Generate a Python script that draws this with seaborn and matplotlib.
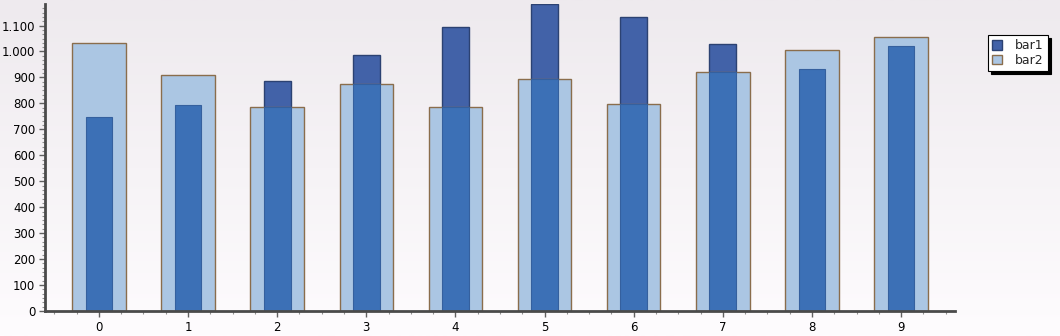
import numpy as np
import pandas as pd
import matplotlib
matplotlib.use("Agg")
import matplotlib.pyplot as plt
import seaborn as sns
from matplotlib.colors import LinearSegmentedColormap
from matplotlib.ticker import FuncFormatter, MultipleLocator, AutoMinorLocator
from matplotlib.patches import Patch

categories = ["0", "1", "2", "3", "4", "5", "6", "7", "8", "9"]
bar1 = [749, 792, 887, 985, 1096, 1183, 1131, 1027, 933, 1023]
bar2 = [1033, 910, 787, 876, 787, 893, 799, 922, 1006, 1054]
series_names = ["bar1", "bar2"]

sns.set_style("white")
plt.rcParams["font.family"] = ["DejaVu Sans"]

fig = plt.figure(figsize=(10.6, 3.36), dpi=100)

# background gradient
bg = fig.add_axes([0, 0, 1, 1], zorder=-10)
grad = np.linspace(0, 1, 256).reshape(-1, 1)
cmap = LinearSegmentedColormap.from_list("bg", ["#eeeaee", "#fefcfe"])
bg.imshow(grad, aspect="auto", cmap=cmap, extent=[0, 1, 0, 1], origin="upper")
bg.set_axis_off()

ax = fig.add_axes([45 / 1060, 25 / 336, 910 / 1060, 307 / 336])
ax.patch.set_alpha(0)

df = pd.DataFrame({"cat": categories, "bar1": bar1, "bar2": bar2})
df["inner"] = np.minimum(df["bar1"], df["bar2"])

dark = "#4262a8"
mid = "#3c70b6"
light = "#abc6e3"
brown = "#8a6d4c"
darkedge = "#2c4272"

sns.barplot(data=df, x="cat", y="bar1", width=0.30, color=dark, saturation=1,
            edgecolor=darkedge, linewidth=1.0, ax=ax, zorder=2)
sns.barplot(data=df, x="cat", y="bar2", width=0.60, color=light, saturation=1,
            edgecolor=brown, linewidth=1.0, ax=ax, zorder=3)
sns.barplot(data=df, x="cat", y="inner", width=0.30, color=mid, saturation=1,
            edgecolor="#35609e", linewidth=0.8, ax=ax, zorder=4)

ax.set_xlim(-0.605, 9.605)
ax.set_ylim(0, 1183)
ax.set_xlabel("")
ax.set_ylabel("")

for s in ["top", "right"]:
    ax.spines[s].set_visible(False)
for s in ["left", "bottom"]:
    ax.spines[s].set_color("#4a4a4a")
    ax.spines[s].set_linewidth(2)
    ax.spines[s].set_zorder(6)

ax.yaxis.set_major_locator(MultipleLocator(100))
ax.yaxis.set_minor_locator(AutoMinorLocator(6))
ax.xaxis.set_minor_locator(MultipleLocator(0.25))
ax.yaxis.set_major_formatter(FuncFormatter(lambda v, p: f"{int(round(v)):,}".replace(",", ".")))

ax.tick_params(axis="both", which="major", direction="out", length=4, width=1,
               color="#606060", labelsize=8.5, labelcolor="#000000", pad=3)
ax.tick_params(axis="both", which="minor", direction="out", length=2.5, width=0.8,
               color="#909090")
ax.tick_params(axis="both", which="both", left=True, bottom=True)

handles = [Patch(facecolor=dark, edgecolor=darkedge, label=series_names[0]),
           Patch(facecolor=light, edgecolor=brown, label=series_names[1])]
leg = fig.legend(handles=handles, loc="upper left", bbox_to_anchor=(988 / 1060, 1 - 35 / 336),
                 frameon=True, fancybox=False, shadow={"color": "black", "alpha": 1},
                 fontsize=9, handlelength=0.8, handleheight=0.8, handletextpad=1.0,
                 borderpad=0.35, labelspacing=0.1, borderaxespad=0)
leg.get_frame().set_edgecolor("black")
leg.get_frame().set_linewidth(0.8)
leg.get_frame().set_facecolor("white")

fig.savefig("out.png", dpi=100)
